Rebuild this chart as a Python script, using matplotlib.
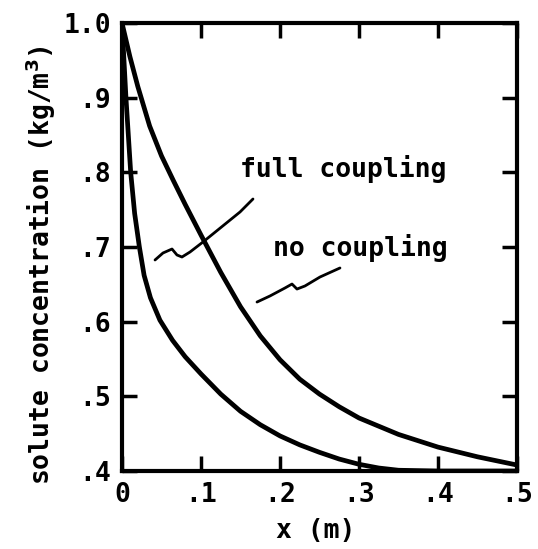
import numpy as np
import matplotlib
matplotlib.use("Agg")
import matplotlib.pyplot as plt

# curves: x (m) vs solute concentration (kg/m^3)
x_no_coupling = [0.0, 0.01, 0.02, 0.035, 0.05, 0.065, 0.08, 0.10, 0.125, 0.15,
                 0.175, 0.20, 0.225, 0.25, 0.275, 0.30, 0.35, 0.40, 0.45, 0.50]
c_no_coupling = [1.0, 0.955, 0.915, 0.862, 0.822, 0.789, 0.757, 0.716, 0.666,
                 0.620, 0.581, 0.549, 0.523, 0.503, 0.486, 0.471, 0.449, 0.432,
                 0.419, 0.408]

x_full_coupling = [0.0, 0.005, 0.011, 0.016, 0.022, 0.028, 0.036, 0.048, 0.064,
                   0.080, 0.10, 0.125, 0.15, 0.175, 0.20, 0.225, 0.25, 0.275,
                   0.30, 0.325, 0.35, 0.40, 0.45, 0.50]
c_full_coupling = [1.0, 0.900, 0.800, 0.745, 0.700, 0.662, 0.632, 0.602, 0.575,
                   0.553, 0.530, 0.503, 0.480, 0.462, 0.447, 0.435, 0.425, 0.416,
                   0.409, 0.404, 0.401, 0.400, 0.400, 0.400]

x_ticks = [0.0, 0.1, 0.2, 0.3, 0.4, 0.5]
x_tick_labels = ["0", ".1", ".2", ".3", ".4", ".5"]
y_ticks = [0.4, 0.5, 0.6, 0.7, 0.8, 0.9, 1.0]
y_tick_labels = [".4", ".5", ".6", ".7", ".8", ".9", "1.0"]

FONT = "DejaVu Sans Mono"
FS = 19
plt.rcParams["mathtext.fontset"] = "dejavusans"

fig = plt.figure(figsize=(5.38, 5.49), dpi=100)
ax = fig.add_axes([122 / 538, 1 - 471 / 549, 395 / 538, 448 / 549])

for xs, cs in [(x_no_coupling, c_no_coupling), (x_full_coupling, c_full_coupling)]:
    ax.plot(xs, cs, color="black", lw=3.4, solid_capstyle="round",
            solid_joinstyle="round")

# hand-drawn wiggly leader lines to the labels
full_leader = np.array([[0.0418, 0.6826], [0.0519, 0.6920], [0.0633, 0.6973],
                        [0.0696, 0.6893], [0.0759, 0.6866], [0.0861, 0.6933],
                        [0.1025, 0.7067], [0.1494, 0.7469], [0.1658, 0.7643]])
no_leader = np.array([[0.1709, 0.6263], [0.1873, 0.6344], [0.2063, 0.6451],
                      [0.2152, 0.6504], [0.2215, 0.6437], [0.2316, 0.6478],
                      [0.2506, 0.6598], [0.2759, 0.6719]])
for path in (full_leader, no_leader):
    ax.plot(path[:, 0], path[:, 1], color="black", lw=2.0,
            solid_capstyle="round", solid_joinstyle="round")

ax.text(0.149, 0.804, "full coupling", family=FONT, fontsize=FS,
        weight="bold", ha="left", va="center")
ax.text(0.191, 0.699, "no coupling", family=FONT, fontsize=FS,
        weight="bold", ha="left", va="center")

ax.set_xlim(0, 0.5)
ax.set_ylim(0.4, 1.0)
ax.set_xticks(x_ticks)
ax.set_xticklabels(x_tick_labels)
ax.set_yticks(y_ticks)
ax.set_yticklabels(y_tick_labels)

for lab in ax.get_xticklabels() + ax.get_yticklabels():
    lab.set_family(FONT)
    lab.set_fontsize(FS)
    lab.set_weight("bold")

ax.tick_params(direction="in", length=11, width=2.5, top=True, right=True,
               pad=8)
for s in ax.spines.values():
    s.set_linewidth(3.0)

ax.set_xlabel("x (m)", family=FONT, fontsize=FS, weight="bold")
ax.set_ylabel("solute concentration (kg/m$^\\mathbf{3}$)", family=FONT,
              fontsize=FS, weight="bold")
ax.xaxis.set_label_coords(0.49, -0.105)
ax.yaxis.set_label_coords(-0.162, 0.46)

fig.savefig("out.png", dpi=100)
